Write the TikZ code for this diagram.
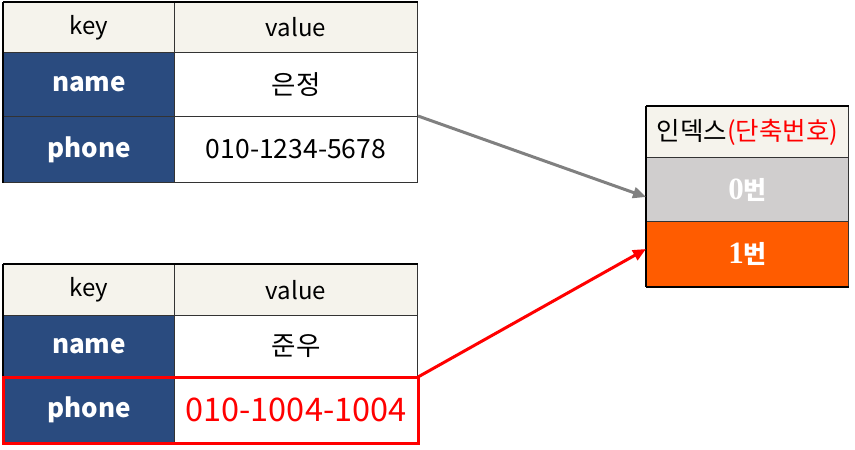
\documentclass[tikz,border=0pt]{standalone}
\usepackage{fontspec}
\setmainfont{Noto Sans CJK KR}
\newfontfamily\numserif{Liberation Serif}
\usetikzlibrary{arrows.meta}
\definecolor{navy}{HTML}{2A4B7F}
\definecolor{hdr}{HTML}{F5F3EC}
\definecolor{graycell}{HTML}{D0CECE}
\definecolor{orangecell}{HTML}{FF5C00}
\definecolor{arrgray}{HTML}{808080}
\tikzset{
  cell/.style={rectangle, draw=black!80, line width=1pt, inner sep=0pt, anchor=north west},
  hdrcell/.style={cell, fill=hdr, font=\fontsize{24}{28}\selectfont},
  keycell/.style={cell, fill=navy, text=white, font=\fontsize{26}{30}\selectfont\bfseries},
  valcell/.style={cell, fill=white, font=\fontsize{26.5}{30}\selectfont},
  idxcell/.style={cell, minimum width=202pt, text=white, font=\fontsize{25}{28}\selectfont\bfseries},
  outer/.style={draw=black, line width=1.6pt},
  conn/.style={line width=3pt, -{Triangle[length=13pt,width=11pt]}}
}
\begin{document}
\begin{tikzpicture}[x=1pt,y=-1pt]
\useasboundingbox (0,0) rectangle (855,450);
% ---------- table 1
\node[hdrcell, minimum width=171pt, minimum height=50pt] (k1) at (3,2) {key};
\node[hdrcell, minimum width=243pt, minimum height=50pt] (v1) at (174,2) {value};
\node[keycell, minimum width=171pt, minimum height=64pt] (n1) at (3,52) {name};
\node[valcell, minimum width=243pt, minimum height=64pt] (nv1) at (174,52) {은정};
\node[keycell, minimum width=171pt, minimum height=66pt] (p1) at (3,116) {phone};
\node[valcell, minimum width=243pt, minimum height=66pt] (pv1) at (174,116) {010-1234-5678};
\draw[outer] (k1.north west) -- (v1.north east);
\draw[outer] (k1.north west) -- (p1.south west);
% ---------- table 2
\node[hdrcell, minimum width=171pt, minimum height=51pt] (k2) at (3,264) {key};
\node[hdrcell, minimum width=243pt, minimum height=51pt] (v2) at (174,264) {value};
\node[keycell, minimum width=171pt, minimum height=62pt] (n2) at (3,315) {name};
\node[valcell, minimum width=243pt, minimum height=62pt] (nv2) at (174,315) {준우};
\node[keycell, minimum width=171pt, minimum height=65pt] (p2) at (3,377) {phone};
\node[valcell, minimum width=243pt, minimum height=65pt, text=red, font=\fontsize{32.5}{36}\selectfont] (pv2) at (174,377) {010-1004-1004};
\draw[outer] (k2.north west) -- (v2.north east);
\draw[outer] (k2.north west) -- (p2.south west);
\draw[red, line width=3pt] (p2.north west) rectangle (pv2.south east);
% ---------- index
\node[cell, minimum width=202pt, minimum height=51pt, fill=hdr, font=\fontsize{25.5}{28}\selectfont] (ih) at (646,106) {인덱스\textcolor{red}{(단축번호)}};
\node[idxcell, minimum height=64pt, fill=graycell] (i0) at (646,157) {{\numserif\bfseries\fontsize{31}{32}\selectfont 0}번};
\node[idxcell, minimum height=65pt, fill=orangecell] (i1) at (646,221) {{\numserif\bfseries\fontsize{31}{32}\selectfont 1}번};
\draw[outer] (ih.north west) -- (ih.north east);
\draw[outer] (ih.north west) -- (i1.south west);
\draw[outer] (i1.south west) -- (i1.south east);
% ---------- connectors
\coordinate (g0) at (646,197);
\coordinate (r0) at (646,249);
\draw[conn, arrgray] (pv1.north east) -- (g0);
\draw[conn, red] (pv2.north east) -- (r0);
\end{tikzpicture}
\end{document}
